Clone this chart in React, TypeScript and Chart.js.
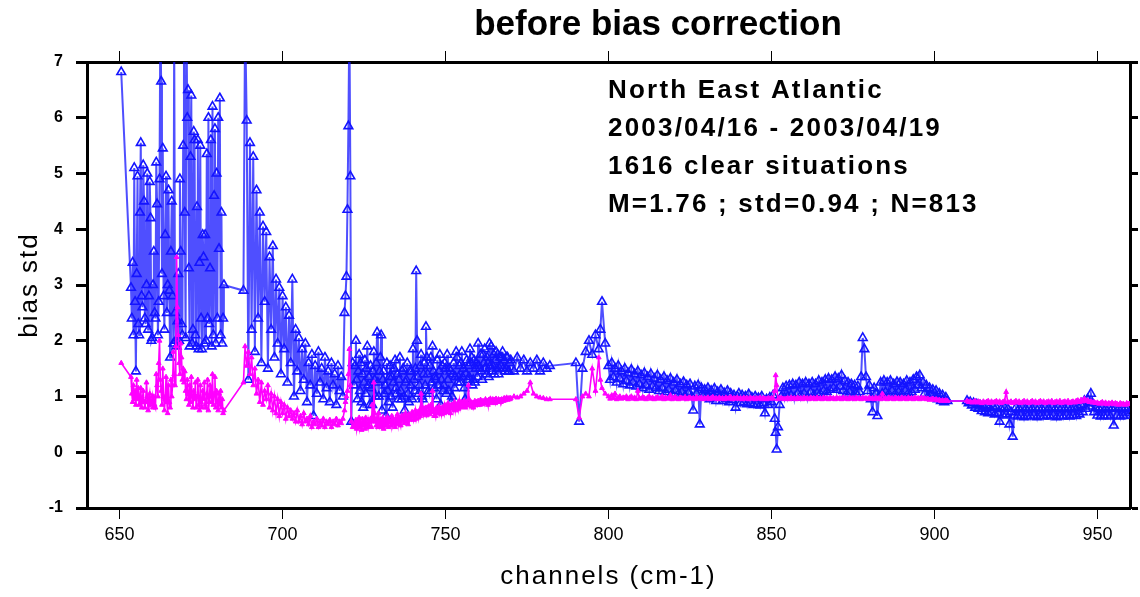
import { useEffect, useRef } from "react";
import { Chart, registerables } from "chart.js";

Chart.register(...registerables);

// ---- Channel bands (wavenumber, cm-1) and the two std series ----

// 650 - 688 cm-1
const chA = [
  650.5, 653.5, 653.75, 654.0, 654.25, 654.5, 654.75, 655.0, 655.25, 655.5,
  655.75, 656.0, 656.25, 656.5, 656.75, 657.0, 657.25, 657.5, 657.75, 658.0,
  658.25, 658.5, 658.75, 659.0, 659.25, 659.5, 659.75, 660.0, 660.25, 660.5,
  660.75, 661.0, 661.25, 661.5, 661.75, 662.0, 662.25, 662.5, 662.75, 663.0,
  663.25, 663.5, 663.75, 664.0, 664.25, 664.5, 664.75, 665.0, 665.25, 665.5,
  665.75, 666.0, 666.25, 666.5, 666.75, 667.0, 667.25, 667.5, 667.75, 668.0,
  668.25, 668.5, 668.75, 669.0, 669.25, 669.5, 669.75, 670.0, 670.25, 670.5,
  670.75, 671.0, 671.25, 671.5, 671.75, 672.0, 672.25, 672.5, 672.75, 673.0,
  673.25, 673.5, 673.75, 674.0, 674.25, 674.5, 674.75, 675.0, 675.25, 675.5,
  675.75, 676.0, 676.25, 676.5, 676.75, 677.0, 677.25, 677.5, 677.75, 678.0,
  678.25, 678.5, 678.75, 679.0, 679.25, 679.5, 679.75, 680.0, 680.25, 680.5,
  680.75, 681.0, 681.25, 681.5, 681.75, 682.0, 688.0,
];
const stdA = [
  6.82, 2.95, 2.40, 3.40, 2.10, 5.10, 2.70, 1.45, 3.20, 4.95,
  2.30, 2.10, 4.30, 5.55, 2.80, 2.60, 5.15, 4.50, 2.40, 2.30,
  3.00, 5.00, 2.20, 2.80, 4.85, 4.20, 2.00, 2.05, 3.00, 3.60,
  2.50, 2.40, 5.20, 4.45, 2.10, 2.70, 4.90, 7.80, 6.65, 3.20,
  5.45, 2.80, 2.20, 3.90, 4.95, 2.50, 3.00, 4.70, 2.90, 1.70,
  3.60, 4.50, 2.80, 1.95, 7.60, 2.50, 2.00, 1.90, 2.35, 3.20,
  2.00, 4.90, 3.60, 2.30, 2.10, 5.50, 7.90, 4.30, 2.05, 8.00,
  6.00, 6.50, 3.30, 1.90, 5.30, 6.40, 1.95, 2.20, 5.75, 5.60,
  2.10, 1.90, 4.40, 5.60, 1.85, 3.40, 5.50, 2.40, 1.85, 3.90,
  3.50, 1.95, 3.90, 2.00, 5.35, 2.40, 6.00, 2.30, 3.30, 5.60,
  1.90, 6.20, 2.10, 4.60, 5.80, 1.95, 5.00, 2.40, 6.00, 3.65,
  6.35, 2.10, 4.30, 1.95, 2.40, 3.00, 2.90,
];
const refA = [
  1.60, 1.35, 1.05, 0.90, 1.20, 0.95, 1.10, 0.85, 1.30, 0.95,
  1.15, 0.85, 1.00, 1.15, 0.80, 0.95, 1.10, 0.90, 0.80, 0.90,
  1.25, 1.00, 0.75, 0.95, 1.05, 0.85, 0.90, 1.00, 0.80, 1.00,
  0.85, 0.80, 1.40, 1.20, 1.00, 1.60, 2.00, 1.30, 1.10, 0.85,
  1.50, 1.00, 0.75, 0.95, 1.35, 0.90, 0.70, 1.20, 0.90, 0.80,
  1.30, 1.00, 1.20, 1.80, 1.40, 1.20, 1.90, 3.50, 2.60, 2.10,
  1.60, 1.40, 1.95, 1.70, 1.30, 1.50, 1.25, 1.45, 1.10, 0.95,
  1.30, 1.05, 0.85, 1.20, 0.90, 1.35, 1.00, 0.80, 1.10, 0.95,
  1.25, 0.80, 1.00, 1.30, 0.85, 0.75, 1.20, 0.90, 0.80, 1.10,
  0.95, 1.25, 0.85, 0.80, 1.05, 1.30, 0.75, 0.90, 1.20, 1.00,
  0.90, 1.40, 0.85, 1.05, 1.35, 0.80, 1.10, 0.90, 0.75, 1.05,
  0.85, 1.10, 0.80, 0.95, 0.70, 0.75, 1.25,
];

// 688 - 722 cm-1
const chB = [
  688.5, 689.0, 689.5, 690.0, 690.5, 691.0, 691.5, 692.0, 692.5, 693.0,
  693.5, 694.0, 694.5, 695.0, 695.5, 696.0, 696.5, 697.0, 697.5, 698.0,
  698.5, 699.0, 699.5, 700.0, 700.5, 701.0, 701.5, 702.0, 702.5, 703.0,
  703.5, 704.0, 704.5, 705.0, 705.5, 706.0, 706.5, 707.0, 707.5, 708.0,
  708.5, 709.0, 709.5, 710.0, 710.5, 711.0, 711.5, 712.0, 712.5, 713.0,
  713.5, 714.0, 714.5, 715.0, 715.5, 716.0, 716.5, 717.0, 717.5, 718.0,
  718.5, 719.0, 719.3, 719.6, 719.9, 720.2, 720.5, 720.8, 721.1, 721.5,
];
const stdB = [
  7.80, 5.95, 1.30, 5.55, 2.20, 5.30, 1.80, 4.70, 2.40, 4.30,
  1.60, 4.05, 2.70, 3.95, 1.50, 3.50, 2.20, 3.70, 1.70, 3.10,
  1.95, 2.95, 1.40, 2.80, 1.85, 2.60, 1.25, 2.45, 1.60, 3.10,
  1.00, 2.20, 1.45, 2.05, 1.10, 1.85, 1.30, 1.95, 0.90, 1.60,
  1.20, 1.75, 0.65, 1.55, 1.05, 1.80, 1.25, 1.50, 0.95, 1.70,
  1.15, 1.45, 0.90, 1.60, 1.20, 1.40, 0.85, 1.55, 1.10, 1.35,
  1.00, 2.50, 2.80, 3.15, 4.35, 5.85, 7.80, 4.95, 0.55, 1.60,
];
const refB = [
  1.90, 1.55, 1.80, 1.40, 1.70, 1.20, 1.50, 1.05, 1.30, 0.90,
  1.25, 0.85, 1.10, 0.95, 1.20, 0.80, 1.05, 0.75, 1.00, 0.70,
  0.95, 0.65, 0.90, 0.70, 0.85, 0.60, 0.80, 0.65, 0.75, 0.60,
  0.70, 0.55, 0.75, 0.55, 0.65, 0.50, 0.70, 0.55, 0.60, 0.50,
  0.65, 0.45, 0.55, 0.50, 0.60, 0.45, 0.55, 0.48, 0.60, 0.45,
  0.55, 0.50, 0.58, 0.45, 0.55, 0.50, 0.60, 0.48, 0.55, 0.52,
  0.60, 0.75, 0.90, 1.00, 1.10, 1.40, 1.85, 1.20, 0.55, 0.45,
];

// 722 - 790 cm-1
const chC = [
  722.0, 722.25, 722.5, 722.75, 723.0, 723.25, 723.5, 723.75, 724.0, 724.25,
  724.5, 724.75, 725.0, 725.25, 725.5, 725.75, 726.0, 726.25, 726.5, 726.75,
  727.0, 727.25, 727.5, 727.75, 728.0, 728.25, 728.5, 728.75, 729.0, 729.25,
  729.5, 729.75, 730.0, 730.25, 730.5, 730.75, 731.0, 731.25, 731.5, 731.75,
  732.0, 732.25, 732.5, 732.75, 733.0, 733.25, 733.5, 733.75, 734.0, 734.25,
  734.5, 734.75, 735.0, 735.25, 735.5, 735.75, 736.0, 736.25, 736.5, 736.75,
  737.0, 737.25, 737.5, 737.75, 738.0, 738.25, 738.5, 738.75, 739.0, 739.25,
  739.5, 739.75, 740.0, 740.25, 740.5, 740.75, 741.0, 741.25, 741.5, 741.75,
  742.0, 742.25, 742.5, 742.75, 743.0, 743.25, 743.5, 743.75, 744.0, 744.25,
  744.5, 744.75, 745.0, 745.25, 745.5, 745.75, 746.0, 746.25, 746.5, 746.75,
  747.0, 747.25, 747.5, 747.75, 748.0, 748.25, 748.5, 748.75, 749.0, 749.25,
  749.5, 749.75, 750.0, 750.25, 750.5, 750.75, 751.0, 751.25, 751.5, 751.75,
  752.0, 752.25, 752.5, 752.75, 753.0, 753.25, 753.5, 753.75, 754.0, 754.25,
  754.5, 754.75, 755.0, 755.25, 755.5, 755.75, 756.0, 756.25, 756.5, 756.75,
  757.0, 757.25, 757.5, 757.75, 758.0, 758.25, 758.5, 758.75, 759.0, 759.25,
  759.5, 759.75, 760.0, 760.25, 760.5, 760.75, 761.0, 761.25, 761.5, 761.75,
  762.0, 762.25, 762.5, 762.75, 763.0, 763.25, 763.5, 763.75, 764.0, 764.25,
  764.5, 764.75, 765.0, 765.25, 765.5, 765.75, 766.0, 766.25, 766.5, 766.75,
  767.0, 767.25, 767.5, 767.75, 768.0, 768.25, 768.5, 768.75, 769.0, 769.25,
  769.5, 769.75, 770, 771, 772, 773, 774, 775, 776, 777,
  778, 779, 780, 781, 782, 790,
];
const stdC = [
  1.20, 1.55, 2.00, 1.30, 0.95, 1.45, 1.75, 1.10, 1.60, 0.90,
  1.40, 0.80, 1.25, 1.65, 1.05, 1.50, 1.90, 1.20, 1.35, 0.85,
  1.55, 1.15, 0.85, 1.45, 1.80, 1.30, 1.00, 1.60, 2.15, 1.25,
  1.00, 1.45, 1.70, 2.10, 0.75, 1.30, 1.45, 1.05, 1.20, 0.65,
  1.60, 1.10, 0.90, 1.35, 1.55, 1.00, 1.35, 0.80, 1.25, 1.50,
  1.65, 1.15, 1.05, 1.40, 0.95, 1.30, 1.70, 1.10, 0.95, 1.45,
  1.50, 1.00, 0.75, 1.25, 1.30, 1.60, 1.05, 0.90, 1.45, 1.20,
  1.45, 0.95, 1.85, 1.30, 1.10, 1.50, 3.25, 2.00, 1.35, 1.05,
  1.20, 1.55, 1.75, 1.00, 0.95, 1.40, 1.60, 1.20, 2.25, 1.70,
  1.40, 1.10, 1.05, 1.55, 1.70, 1.25, 1.90, 1.45, 1.15, 1.35,
  1.30, 0.95, 1.65, 1.20, 1.45, 1.75, 0.85, 1.30, 1.55, 1.10,
  1.20, 1.60, 1.50, 1.05, 1.75, 1.30, 1.10, 1.50, 1.45, 0.90,
  1.00, 1.40, 1.60, 1.15, 1.35, 1.80, 1.70, 1.25, 1.35, 1.55,
  1.25, 1.60, 1.80, 1.35, 1.50, 1.15, 0.95, 1.40, 1.65, 1.30,
  1.55, 1.35, 1.85, 1.60, 1.70, 1.20, 1.30, 1.65, 1.25, 1.50,
  1.60, 1.35, 1.95, 1.55, 1.50, 1.75, 1.45, 1.30, 1.75, 1.60,
  1.85, 1.50, 1.40, 1.70, 1.60, 1.35, 1.95, 1.55, 1.90, 1.45,
  1.55, 1.75, 1.40, 1.65, 1.80, 1.50, 1.75, 1.40, 1.50, 1.70,
  1.55, 1.70, 1.80, 1.50, 1.65, 1.45, 1.50, 1.70, 1.70, 1.45,
  1.45, 1.60, 1.65, 1.45, 1.70, 1.50, 1.65, 1.45, 1.60, 1.50,
  1.65, 1.45, 1.60, 1.50, 1.55, 1.60,
];
const refC = [
  0.50, 0.45, 0.58, 0.42, 0.55, 0.48, 0.62, 0.45, 0.52, 0.40,
  0.60, 0.48, 0.55, 0.42, 0.62, 0.50, 0.45, 0.58, 0.48, 0.55,
  0.60, 0.45, 0.85, 0.55, 1.25, 0.70, 0.55, 0.48, 0.62, 0.45,
  0.70, 0.50, 0.58, 0.45, 0.55, 0.62, 0.42, 0.55, 0.48, 0.60,
  0.50, 0.62, 0.45, 0.58, 0.55, 0.48, 0.65, 0.50, 0.60, 0.52,
  0.45, 0.60, 0.55, 0.68, 0.50, 0.62, 0.55, 0.48, 0.65, 0.58,
  0.65, 0.52, 0.60, 0.70, 0.55, 0.62, 0.50, 0.68, 0.58, 0.65,
  0.60, 0.72, 0.70, 0.58, 0.65, 0.75, 0.60, 0.68, 0.72, 0.62,
  0.75, 0.65, 1.05, 0.70, 0.80, 0.68, 0.78, 0.72, 0.80, 0.66,
  0.70, 0.82, 0.75, 0.68, 0.85, 0.72, 1.10, 0.78, 0.65, 0.74,
  0.65, 0.80, 0.75, 0.70, 0.82, 0.72, 0.78, 0.68, 0.80, 0.75,
  0.70, 0.85, 0.78, 0.72, 0.80, 0.88, 0.75, 0.82, 0.70, 0.85,
  0.85, 0.78, 0.82, 0.90, 0.75, 0.85, 0.80, 0.88, 0.78, 0.92,
  0.80, 0.88, 0.90, 0.82, 0.86, 0.92, 0.80, 0.85, 0.90, 0.84,
  1.20, 0.95, 0.85, 0.90, 0.82, 0.88, 0.80, 0.86, 0.92, 0.84,
  0.90, 0.85, 0.92, 0.88, 0.85, 0.94, 0.90, 0.86, 0.92, 0.88,
  0.90, 0.95, 0.88, 0.92, 0.85, 0.94, 0.90, 0.96, 0.88, 0.92,
  0.95, 0.90, 0.94, 0.88, 0.96, 0.92, 0.90, 0.95, 0.92, 0.94,
  0.90, 0.95, 0.94, 0.92, 0.97, 0.93, 0.95, 0.98, 0.94, 0.96,
  0.97, 0.95, 0.97, 1.00, 0.98, 1.00, 1.05, 1.10, 1.25, 1.05,
  1.00, 0.98, 0.97, 0.95, 0.95, 0.95,
];

// 791 - 854 cm-1
const chD = [
  791, 792, 793, 794, 795, 796, 797, 797.5, 798, 799,
  800.0, 800.5, 801.0, 801.5, 802.0, 802.5, 803.0, 803.5, 804.0, 804.5,
  805.0, 805.5, 806.0, 806.5, 807.0, 807.5, 808.0, 808.5, 809.0, 809.5,
  810.0, 810.5, 811.0, 811.5, 812.0, 812.5, 813.0, 813.5, 814.0, 814.5,
  815.0, 815.5, 816.0, 816.5, 817.0, 817.5, 818.0, 818.5, 819.0, 819.5,
  820.0, 820.5, 821.0, 821.5, 822.0, 822.5, 823.0, 823.5, 824.0, 824.5,
  825.0, 825.5, 826.0, 826.5, 827.0, 827.5, 828.0, 828.5, 829.0, 829.5,
  830.0, 830.5, 831.0, 831.5, 832.0, 832.5, 833.0, 833.5, 834.0, 834.5,
  835.0, 835.5, 836.0, 836.5, 837.0, 837.5, 838.0, 838.5, 839.0, 839.5,
  840.0, 840.5, 841.0, 841.5, 842.0, 842.5, 843.0, 843.5, 844.0, 844.5,
  845.0, 845.5, 846.0, 846.5, 847.0, 847.5, 848.0, 848.5, 849.0, 849.5,
  850.0, 850.5, 851.0, 851.3, 851.6, 852.0, 852.5, 853.0, 853.5, 854.0,
];
const stdD = [
  0.55, 1.50, 1.80, 2.00, 1.75, 2.10, 1.85, 2.20, 2.70, 1.95,
  1.55, 1.30, 1.60, 1.35, 1.50, 1.25, 1.55, 1.32, 1.45, 1.22,
  1.50, 1.28, 1.42, 1.20, 1.48, 1.25, 1.40, 1.18, 1.45, 1.22,
  1.38, 1.15, 1.42, 1.20, 1.35, 1.12, 1.40, 1.18, 1.32, 1.15,
  1.38, 1.10, 1.30, 1.15, 1.35, 1.08, 1.28, 1.12, 1.32, 1.05,
  1.25, 1.10, 1.30, 1.05, 1.22, 1.08, 1.26, 1.02, 1.20, 1.06,
  1.22, 1.00, 0.75, 1.18, 1.05, 1.20, 0.50, 1.15, 1.00, 1.12,
  0.98, 1.15, 0.95, 1.10, 1.00, 1.14, 0.92, 1.08, 0.98, 1.12,
  0.92, 1.06, 0.95, 1.10, 0.90, 1.05, 0.94, 1.02, 0.80, 1.00,
  1.05, 0.88, 1.02, 0.90, 1.00, 0.86, 1.04, 0.88, 0.98, 0.85,
  1.00, 0.86, 0.97, 0.84, 1.00, 0.88, 0.70, 0.95, 0.85, 0.98,
  0.90, 1.02, 0.60, 0.35, 0.05, 0.45, 0.85, 1.00, 1.15, 0.98,
];
const refD = [
  0.62, 1.00, 1.05, 1.00, 1.50, 1.10, 1.70, 1.30, 1.15, 1.05,
  1.00, 0.96, 1.02, 0.97, 1.05, 0.95, 0.98, 1.00, 0.96, 0.98,
  0.97, 1.00, 0.95, 0.98, 1.00, 0.96, 0.98, 0.95, 1.10, 0.97,
  0.96, 0.99, 0.97, 0.95, 0.98, 1.00, 0.96, 0.98, 0.95, 0.97,
  0.99, 0.96, 0.97, 1.00, 0.95, 0.98, 0.96, 0.97, 1.02, 0.95,
  0.97, 0.99, 0.96, 0.95, 0.98, 0.97, 0.96, 0.99, 0.95, 0.97,
  0.98, 0.96, 0.97, 0.95, 0.99, 0.96, 0.97, 0.98, 0.95, 0.97,
  0.96, 0.98, 0.95, 0.97, 0.99, 0.96, 0.97, 0.95, 0.98, 0.96,
  0.97, 0.95, 0.98, 0.96, 0.97, 0.99, 0.95, 0.97, 0.96, 0.98,
  0.96, 0.97, 0.95, 0.98, 0.96, 0.97, 0.95, 0.98, 0.96, 0.97,
  0.95, 0.97, 0.96, 0.98, 0.95, 0.97, 0.96, 0.95, 0.97, 0.96,
  0.97, 0.96, 1.10, 1.38, 1.20, 0.95, 0.97, 0.97, 0.96, 0.95,
];

// 854 - 904 cm-1
const chE = [
  854.5, 855.0, 855.5, 856.0, 856.5, 857.0, 857.5, 858.0, 858.5, 859.0,
  859.5, 860.0, 860.5, 861.0, 861.5, 862.0, 862.5, 863.0, 863.5, 864.0,
  864.5, 865.0, 865.5, 866.0, 866.5, 867.0, 867.5, 868.0, 868.5, 869.0,
  869.5, 870.0, 870.5, 871.0, 871.5, 872.0, 872.5, 873.0, 873.5, 874.0,
  874.5, 875.0, 875.5, 876.0, 876.5, 877.0, 877.5, 878.0, 878.5, 879.0,
  879.5, 880.0, 880.5, 881.0, 881.5, 882.0, 882.5, 883.0, 883.5, 884.0,
  884.5, 885.0, 885.5, 886.0, 886.5, 887.0, 887.5, 888.0, 888.5, 889.0,
  889.5, 890.0, 890.5, 891.0, 891.5, 892.0, 892.5, 893.0, 893.5, 894.0,
  894.5, 895.0, 895.5, 896.0, 896.5, 897.0, 897.5, 898.0, 898.5, 899.0,
  899.5, 900.0, 900.5, 901.0, 901.5, 902.0, 902.5, 903.0, 903.5, 904.0,
];
const stdE = [
  1.18, 1.00, 1.20, 1.02, 1.22, 0.98, 1.20, 1.05, 1.25, 1.02,
  1.22, 1.05, 1.25, 1.00, 1.22, 1.08, 1.25, 1.03, 1.22, 1.06,
  1.28, 1.05, 1.25, 1.10, 1.30, 1.08, 1.32, 1.12, 1.30, 1.15,
  1.35, 1.12, 1.32, 1.18, 1.38, 1.10, 1.28, 1.05, 1.25, 1.08,
  1.22, 1.02, 1.20, 1.05, 1.18, 1.08, 1.35, 2.05, 1.85, 1.35,
  1.10, 1.20, 0.95, 0.72, 1.15, 1.05, 0.65, 1.00, 1.25, 1.05,
  1.28, 1.08, 1.25, 1.05, 1.28, 1.10, 1.22, 1.05, 1.26, 1.08,
  1.25, 1.05, 1.22, 1.10, 1.28, 1.06, 1.25, 1.08, 1.30, 1.12,
  1.35, 1.20, 1.38, 1.15, 1.25, 1.05, 1.20, 1.00, 1.15, 1.02,
  1.12, 0.98, 1.10, 0.95, 1.05, 0.92, 1.02, 0.90, 0.98, 0.92,
];
const refE = [
  0.96, 0.97, 0.95, 0.98, 0.96, 0.97, 0.95, 0.98, 0.96, 0.97,
  0.95, 0.98, 0.96, 0.97, 0.95, 0.98, 0.96, 0.97, 0.95, 0.98,
  0.96, 0.97, 0.95, 0.98, 0.96, 0.97, 0.95, 0.98, 0.96, 0.97,
  0.95, 0.98, 0.96, 0.97, 0.95, 0.98, 0.96, 0.97, 0.95, 0.98,
  0.96, 0.97, 0.95, 0.98, 0.96, 0.97, 0.95, 0.98, 0.96, 0.97,
  0.95, 0.98, 0.96, 0.97, 0.95, 0.98, 0.96, 0.97, 0.95, 1.05,
  0.96, 0.97, 0.95, 0.98, 0.96, 0.97, 0.95, 0.98, 0.96, 0.97,
  0.95, 0.98, 0.96, 0.97, 0.95, 0.98, 0.96, 0.97, 0.95, 0.98,
  0.96, 0.97, 0.95, 0.98, 0.96, 0.97, 0.95, 0.96, 0.94, 0.95,
  0.96, 0.94, 0.95, 0.93, 0.94, 0.92, 0.93, 0.92, 0.93, 0.92,
];

// 910 - 960 cm-1
const chF = [
  910.0, 910.5, 911.0, 911.5, 912.0, 912.5, 913.0, 913.5, 914.0, 914.5,
  915.0, 915.5, 916.0, 916.5, 917.0, 917.5, 918.0, 918.5, 919.0, 919.5,
  920.0, 920.5, 921.0, 921.5, 922.0, 922.5, 923.0, 923.5, 924.0, 924.5,
  925.0, 925.5, 926.0, 926.5, 927.0, 927.5, 928.0, 928.5, 929.0, 929.5,
  930.0, 930.5, 931.0, 931.5, 932.0, 932.5, 933.0, 933.5, 934.0, 934.5,
  935.0, 935.5, 936.0, 936.5, 937.0, 937.5, 938.0, 938.5, 939.0, 939.5,
  940.0, 940.5, 941.0, 941.5, 942.0, 942.5, 943.0, 943.5, 944.0, 944.5,
  945.0, 945.5, 946.0, 946.5, 947.0, 947.5, 948.0, 948.5, 949.0, 949.5,
  950.0, 950.5, 951.0, 951.5, 952.0, 952.5, 953.0, 953.5, 954.0, 954.5,
  955.0, 955.5, 956.0, 956.5, 957.0, 957.5, 958.0, 958.5, 959.0, 959.5,
  960.0,
];
const stdF = [
  0.92, 0.88, 0.90, 0.84, 0.88, 0.80, 0.86, 0.78, 0.84, 0.74,
  0.82, 0.72, 0.84, 0.70, 0.80, 0.72, 0.82, 0.68, 0.80, 0.70,
  0.55, 0.78, 0.66, 0.80, 0.68, 0.78, 0.50, 0.72, 0.28, 0.66,
  0.80, 0.64, 0.78, 0.66, 0.80, 0.63, 0.78, 0.65, 0.80, 0.64,
  0.78, 0.66, 0.80, 0.63, 0.79, 0.65, 0.78, 0.64, 0.80, 0.66,
  0.78, 0.64, 0.80, 0.66, 0.78, 0.63, 0.80, 0.65, 0.79, 0.64,
  0.78, 0.66, 0.80, 0.64, 0.78, 0.66, 0.80, 0.65, 0.82, 0.68,
  0.85, 0.72, 0.92, 0.78, 0.95, 0.82, 1.05, 0.88, 0.72, 0.80,
  0.66, 0.78, 0.64, 0.80, 0.65, 0.78, 0.66, 0.80, 0.64, 0.78,
  0.48, 0.80, 0.66, 0.78, 0.64, 0.80, 0.65, 0.78, 0.66, 0.80,
  0.70,
];
const refF = [
  0.92, 0.90, 0.91, 0.89, 0.90, 0.92, 0.89, 0.91, 0.90, 0.88,
  0.91, 0.89, 0.90, 0.92, 0.88, 0.91, 0.89, 0.90, 0.92, 0.89,
  0.91, 0.88, 0.90, 0.92, 1.08, 0.90, 0.89, 0.91, 0.88, 0.90,
  0.92, 0.89, 0.91, 0.88, 0.90, 0.92, 0.89, 0.91, 0.88, 0.90,
  0.92, 0.89, 0.91, 0.88, 0.90, 0.92, 0.89, 0.91, 0.88, 0.90,
  0.91, 0.89, 0.92, 0.88, 0.90, 0.91, 0.89, 0.92, 0.88, 0.90,
  0.91, 0.89, 0.92, 0.88, 0.90, 0.91, 0.89, 0.92, 0.93, 0.90,
  0.94, 0.91, 0.96, 0.92, 0.93, 0.90, 0.91, 0.89, 0.90, 0.88,
  0.89, 0.87, 0.88, 0.90, 0.87, 0.89, 0.86, 0.88, 0.87, 0.89,
  0.86, 0.88, 0.87, 0.85, 0.88, 0.86, 0.87, 0.85, 0.88, 0.86,
  0.87,
];

const channels = [...chA, ...chB, ...chC, ...chD, ...chE, ...chF];
const biasStd = [...stdA, ...stdB, ...stdC, ...stdD, ...stdE, ...stdF];
const refStd = [...refA, ...refB, ...refC, ...refD, ...refE, ...refF];

const xTickValues = [650, 700, 750, 800, 850, 900, 950];
const yTickValues = [-1, 0, 1, 2, 3, 4, 5, 6, 7];

const titleText = "before bias correction";
const infoLines = [
  "North East Atlantic",
  "2003/04/16 - 2003/04/19",
  "1616 clear situations",
  "M=1.76 ; std=0.94 ; N=813",
];
const xAxisTitle = "channels (cm-1)";
const yAxisTitle = "bias std";

const FONT = '"Liberation Sans", Arial, Helvetica, sans-serif';
const W = 1140;
const H = 597;

// Title, info block and axis titles drawn straight on the canvas
const textPlugin = {
  id: "textBlocks",
  afterDraw(chart: any) {
    const { ctx, chartArea } = chart;
    ctx.save();
    ctx.fillStyle = "#000";
    ctx.textBaseline = "alphabetic";

    ctx.font = `bold 35px ${FONT}`;
    ctx.textAlign = "center";
    ctx.fillText(titleText, 658, 35);

    ctx.font = `bold 26px ${FONT}`;
    (ctx as any).letterSpacing = "2.2px";
    ctx.textAlign = "left";
    infoLines.forEach((line, i) => ctx.fillText(line, 608, 98 + i * 38));

    ctx.font = `26px ${FONT}`;
    (ctx as any).letterSpacing = "2px";
    ctx.textAlign = "center";
    ctx.fillText(xAxisTitle, (chartArea.left + chartArea.right) / 2, 584);

    ctx.translate(37, (chartArea.top + chartArea.bottom) / 2);
    ctx.rotate(-Math.PI / 2);
    ctx.fillText(yAxisTitle, 0, 0);
    ctx.restore();
  },
};

const setXTicks = (scale: any) => {
  scale.ticks = xTickValues.map((v) => ({ value: v }));
};
const setYTicks = (scale: any) => {
  scale.ticks = yTickValues.map((v) => ({ value: v }));
};

export default function App() {
  const canvasRef = useRef<HTMLCanvasElement | null>(null);

  useEffect(() => {
    if (!canvasRef.current) return;
    const n = Math.min(channels.length, biasStd.length, refStd.length);
    const bluePts = [];
    const pinkPts = [];
    for (let i = 0; i < n; i++) {
      bluePts.push({ x: channels[i], y: biasStd[i] });
      pinkPts.push({ x: channels[i], y: refStd[i] });
    }

    const axisBorder = { display: true, color: "#000", width: 3 };

    const chart = new Chart(canvasRef.current, {
      type: "line",
      data: {
        datasets: [
          {
            label: "bias std",
            data: bluePts,
            borderColor: "rgba(20,20,255,0.75)",
            borderWidth: 2,
            pointStyle: "triangle",
            pointRadius: 5,
            pointBorderColor: "rgb(20,20,255)",
            pointBackgroundColor: "rgba(255,255,255,0)",
            pointBorderWidth: 1.6,
            tension: 0,
            order: 2,
          },
          {
            label: "reference std",
            data: pinkPts,
            borderColor: "rgb(255,0,255)",
            borderWidth: 1.6,
            pointStyle: "triangle",
            pointRadius: 2.8,
            pointBorderColor: "rgb(255,0,255)",
            pointBackgroundColor: "rgb(255,0,255)",
            pointBorderWidth: 1,
            tension: 0,
            order: 1,
          },
        ],
      },
      options: {
        animation: false,
        responsive: false,
        devicePixelRatio: 1,
        events: [],
        layout: { padding: 0 },
        plugins: {
          legend: { display: false },
          tooltip: { enabled: false },
          title: { display: false },
        },
        scales: {
          x: {
            type: "linear",
            position: "bottom",
            min: 640,
            max: 960,
            afterBuildTicks: setXTicks,
            afterFit: (s: any) => {
              s.height = H - 508;
            },
            grid: {
              drawOnChartArea: false,
              drawTicks: true,
              tickLength: 11,
              tickWidth: 1,
              tickColor: "#000",
              color: "#000",
            },
            border: axisBorder,
            ticks: {
              color: "#000",
              font: { family: FONT, size: 18 },
              padding: 5,
              maxRotation: 0,
              autoSkip: false,
            },
          },
          xTop: {
            type: "linear",
            position: "top",
            min: 640,
            max: 960,
            afterBuildTicks: setXTicks,
            afterFit: (s: any) => {
              s.height = 62;
            },
            grid: {
              drawOnChartArea: false,
              drawTicks: true,
              tickLength: 11,
              tickWidth: 1,
              tickColor: "#000",
              color: "#000",
            },
            border: axisBorder,
            ticks: { display: false },
          },
          y: {
            type: "linear",
            position: "left",
            min: -1,
            max: 7,
            afterBuildTicks: setYTicks,
            afterFit: (s: any) => {
              s.width = 87;
            },
            grid: {
              drawOnChartArea: false,
              drawTicks: true,
              tickLength: 11,
              tickWidth: 3,
              tickColor: "#000",
              color: "#000",
            },
            border: axisBorder,
            ticks: {
              color: "#000",
              font: { family: FONT, size: 16, weight: "bold" },
              padding: 13,
            },
          },
          yRight: {
            type: "linear",
            position: "right",
            min: -1,
            max: 7,
            afterBuildTicks: setYTicks,
            afterFit: (s: any) => {
              s.width = W - 1130;
            },
            grid: {
              drawOnChartArea: false,
              drawTicks: true,
              tickLength: 8,
              tickWidth: 3,
              tickColor: "#000",
              color: "#000",
            },
            border: axisBorder,
            ticks: { display: false },
          },
        },
      } as any,
      plugins: [textPlugin],
    });

    return () => chart.destroy();
  }, []);

  return (
    <div
      style={{
        position: "fixed",
        left: 0,
        top: 0,
        width: W,
        height: H,
        background: "#fff",
      }}
    >
      <canvas ref={canvasRef} width={W} height={H} style={{ display: "block" }} />
    </div>
  );
}
